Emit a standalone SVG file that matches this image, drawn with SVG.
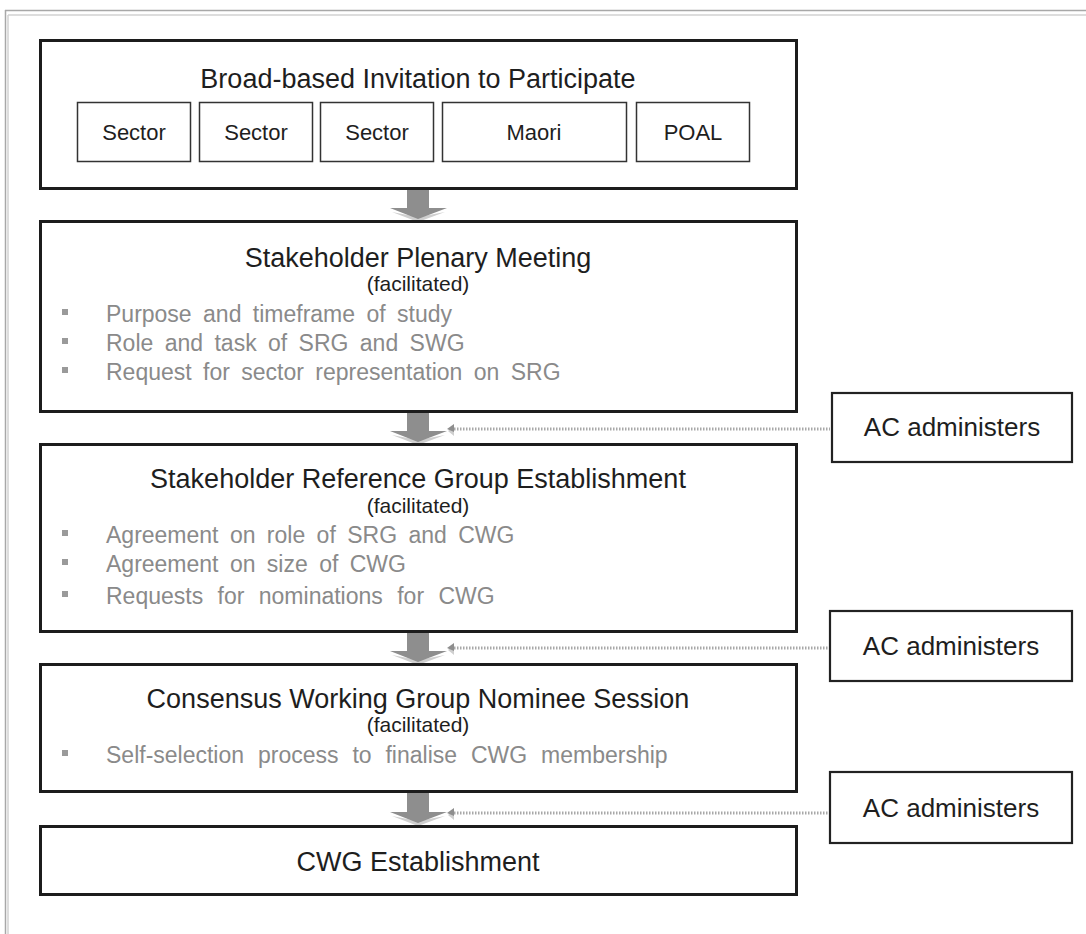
<svg xmlns="http://www.w3.org/2000/svg" width="1086" height="934" viewBox="0 0 1086 934">
<style>
.box{fill:#fff;stroke:#1c1c1c;stroke-width:3}
.sub{fill:#fff;stroke:#333;stroke-width:1.5}
.ac{fill:#fff;stroke:#222;stroke-width:2.2}
.t{font-family:"Liberation Sans",Arial,sans-serif;fill:#1e1e1e;text-anchor:middle}
.title{font-size:27px}
.fac{font-size:21px}
.sec{font-size:22px}
.acT{font-size:26px}
.bl{font-family:"Liberation Sans",Arial,sans-serif;fill:#8a8a8a;font-size:23px;word-spacing:5px}
.sq{fill:#9a9a9a}
.shaft{fill:#8e8e8e}
.shadow{fill:#cfcfcf}
.dot{stroke:#a8a8a8;stroke-width:3;stroke-dasharray:1.5 1.5;fill:none}
.ah{fill:#8e8e8e}
</style>
<g id="frame">
<line x1="5.5" y1="10" x2="5.5" y2="934" stroke="#a8a8a8" stroke-width="1.5"/>
<line x1="8" y1="15" x2="8" y2="934" stroke="#d2d2d2" stroke-width="1.5"/>
<line x1="5" y1="10.5" x2="1086" y2="10.5" stroke="#a8a8a8" stroke-width="1.5"/>
<line x1="8" y1="15" x2="1086" y2="15" stroke="#d2d2d2" stroke-width="1.5"/>
</g>
<g id="connectors">
<g id="arrow1"><polygon class="shadow" points="392,212 418,222 445,212 418,217"/><polygon class="shaft" points="407,190 429,190 429,208 447,208 418,219 390,208 407,208"/></g>
<g id="arrow2"><polygon class="shadow" points="392,435 418,445 445,435 418,440"/><polygon class="shaft" points="407,413 429,413 429,431 447,431 418,442 390,431 407,431"/></g>
<g id="arrow3"><polygon class="shadow" points="392,655 418,665 445,655 418,660"/><polygon class="shaft" points="407,632 429,632 429,651 447,651 418,662 390,651 407,651"/></g>
<g id="arrow4"><polygon class="shadow" points="392,816 418,826 445,816 418,821"/><polygon class="shaft" points="407,792 429,792 429,812 447,812 418,823 390,812 407,812"/></g>
<g id="ac1"><line class="dot" x1="454" y1="429" x2="830" y2="429"/><polygon class="shadow" points="448,431 454,426 454,436"/><polygon class="ah" points="447,429 454,424 454,432"/></g>
<g id="ac2"><line class="dot" x1="454" y1="648" x2="830" y2="648"/><polygon class="shadow" points="448,650 454,645 454,655"/><polygon class="ah" points="447,648 454,643 454,651"/></g>
<g id="ac3"><line class="dot" x1="454" y1="813" x2="830" y2="813"/><polygon class="shadow" points="448,815 454,810 454,820"/><polygon class="ah" points="447,813 454,808 454,816"/></g>
</g>
<g id="invitation">
<rect class="box" x="40.5" y="40.5" width="756" height="148"/>
<text class="t title" x="418" y="88">Broad-based Invitation to Participate</text>
<rect class="sub" x="77.5" y="102.5" width="113" height="59"/>
<text class="t sec" x="134" y="140">Sector</text>
<rect class="sub" x="199.5" y="102.5" width="113" height="59"/>
<text class="t sec" x="256" y="140">Sector</text>
<rect class="sub" x="320.5" y="102.5" width="113" height="59"/>
<text class="t sec" x="377" y="140">Sector</text>
<rect class="sub" x="442.5" y="102.5" width="184" height="59"/>
<text class="t sec" x="534" y="140">Maori</text>
<rect class="sub" x="636.5" y="102.5" width="113" height="59"/>
<text class="t sec" x="693" y="140">POAL</text>
</g>
<g id="plenary">
<rect class="box" x="40.5" y="221.5" width="756" height="190"/>
<text class="t title" x="418" y="267">Stakeholder Plenary Meeting</text>
<text class="t fac" x="418" y="291">(facilitated)</text>
<rect class="sq" x="62" y="309" width="6" height="6"/>
<text class="bl" x="106" y="322">Purpose and timeframe of study</text>
<rect class="sq" x="62" y="338" width="6" height="6"/>
<text class="bl" x="106" y="351">Role and task of SRG and SWG</text>
<rect class="sq" x="62" y="367" width="6" height="6"/>
<text class="bl" x="106" y="380">Request for sector representation on SRG</text>
</g>
<g id="srg">
<rect class="box" x="40.5" y="444.5" width="756" height="187"/>
<text class="t title" x="418" y="488">Stakeholder Reference Group Establishment</text>
<text class="t fac" x="418" y="513">(facilitated)</text>
<rect class="sq" x="62" y="530" width="6" height="6"/>
<text class="bl" x="106" y="543">Agreement on role of SRG and CWG</text>
<rect class="sq" x="62" y="559" width="6" height="6"/>
<text class="bl" x="106" y="572">Agreement on size of CWG</text>
<rect class="sq" x="62" y="591" width="6" height="6"/>
<text class="bl" x="106" y="604" style="word-spacing:8px">Requests for nominations for CWG</text>
</g>
<g id="cwg-session">
<rect class="box" x="40.5" y="664.5" width="756" height="127"/>
<text class="t title" x="418" y="708">Consensus Working Group Nominee Session</text>
<text class="t fac" x="418" y="732">(facilitated)</text>
<rect class="sq" x="62" y="750" width="6" height="6"/>
<text class="bl" x="106" y="763" style="word-spacing:7.5px">Self-selection process to finalise CWG membership</text>
</g>
<g id="cwg-establishment">
<rect class="box" x="40.5" y="826.5" width="756" height="68"/>
<text class="t title" x="418" y="871">CWG Establishment</text>
</g>
<g id="ac-box1">
<rect class="ac" x="832" y="393" width="240" height="69"/>
<text class="t acT" x="952" y="436">AC administers</text>
</g>
<g id="ac-box2">
<rect class="ac" x="830" y="611" width="242" height="70"/>
<text class="t acT" x="951" y="655">AC administers</text>
</g>
<g id="ac-box3">
<rect class="ac" x="830" y="772" width="242" height="71"/>
<text class="t acT" x="951" y="817">AC administers</text>
</g>
</svg>
